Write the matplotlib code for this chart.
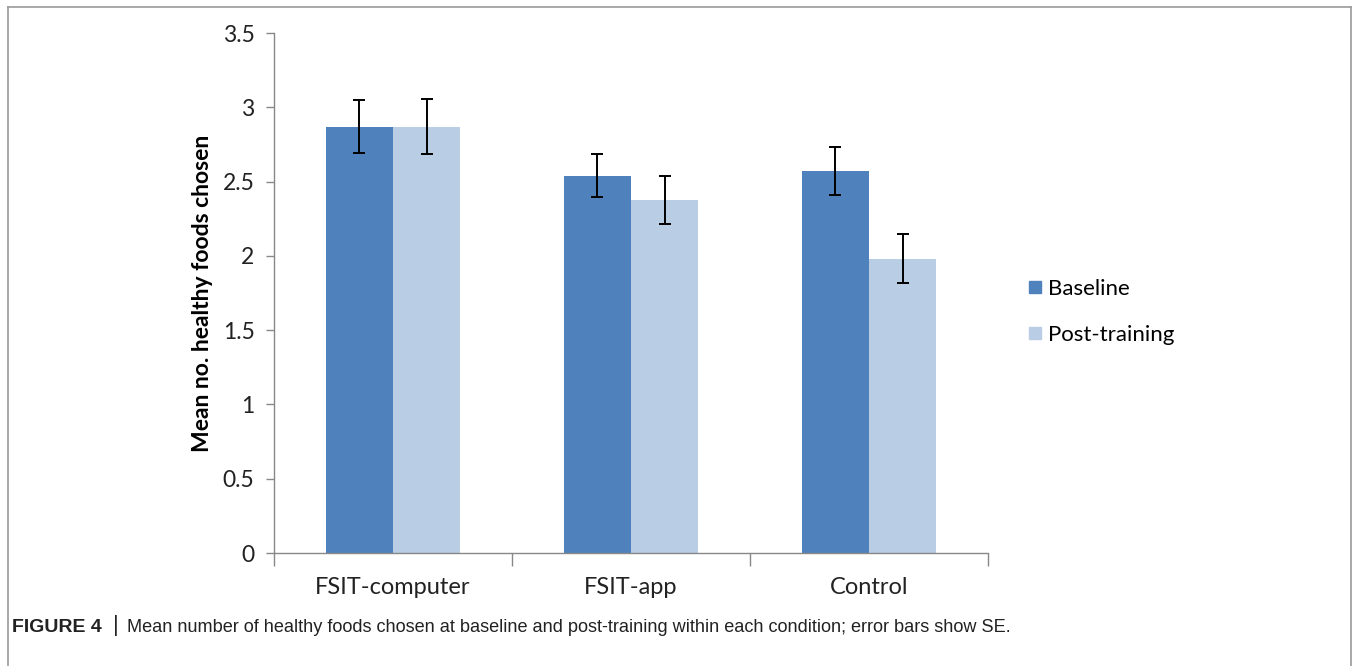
import matplotlib
matplotlib.use("Agg")
import matplotlib.pyplot as plt
import numpy as np
from matplotlib.lines import Line2D

categories = ["FSIT-computer", "FSIT-app", "Control"]
series_names = ["Baseline", "Post-training"]
baseline = [2.87, 2.54, 2.57]
baseline_se = [0.18, 0.145, 0.16]
post = [2.87, 2.375, 1.98]
post_se = [0.185, 0.16, 0.165]
yticks = [0, 0.5, 1, 1.5, 2, 2.5, 3, 3.5]
ytick_labels = ["0", "0.5", "1", "1.5", "2", "2.5", "3", "3.5"]
ylabel = "Mean no. healthy foods chosen"
caption_bold = "FIGURE 4"
caption_text = "Mean number of healthy foods chosen at baseline and post-training within each condition; error bars show SE."

c_base = "#4F81BD"
c_post = "#B9CDE5"
tick_font = ["Lato", "DejaVu Sans"]
cap_font = ["Liberation Sans Narrow", "Liberation Sans", "DejaVu Sans"]

fig = plt.figure(figsize=(13.56, 6.66), dpi=100)
ax = fig.add_axes([274/1356, 113/666, (988-274)/1356, (553-33)/666])

x = np.arange(len(categories))
w = 0.283
ax.bar(x - w/2, baseline, w, color=c_base, yerr=baseline_se,
       error_kw=dict(ecolor="black", elinewidth=1.4, capsize=4.5, capthick=1.4), zorder=2)
ax.bar(x + w/2, post, w, color=c_post, yerr=post_se,
       error_kw=dict(ecolor="black", elinewidth=1.4, capsize=4.5, capthick=1.4), zorder=2)

ax.set_xlim(-0.5, len(categories) - 0.5)
ax.set_ylim(0, 3.5)
ax.set_yticks(yticks)
ax.set_yticklabels(ytick_labels, fontfamily=tick_font, fontsize=16.5, color="#222222")
ax.set_xticks(np.arange(len(categories) + 1) - 0.5, minor=False)
ax.set_xticklabels([])
ax.set_xticks(x, minor=True)
ax.set_xticklabels(categories, minor=True, fontfamily=tick_font, fontsize=17, color="#222222")
ax.tick_params(axis="x", which="minor", length=0, pad=17)
ax.tick_params(axis="x", which="major", length=9, direction="out", color="#888888", width=1)
ax.tick_params(axis="y", length=6, direction="out", color="#888888", width=1, pad=8)
for s in ["top", "right"]:
    ax.spines[s].set_visible(False)
for s in ["left", "bottom"]:
    ax.spines[s].set_color("#888888")
    ax.spines[s].set_linewidth(1)

ax.set_ylabel(ylabel, fontfamily=tick_font, fontsize=16.5, fontweight="bold", labelpad=7)

handles = [Line2D([], [], marker="s", linestyle="", markersize=8, color=c_base),
           Line2D([], [], marker="s", linestyle="", markersize=8, color=c_post)]
fig.legend(handles, series_names, loc="center left", bbox_to_anchor=(1004/1356, 1 - 312/666),
           frameon=False, prop=dict(family=tick_font, size=16), handletextpad=0.1,
           labelspacing=1.15, handlelength=1.0)

# figure frame
for (xs, ys) in [([8, 8], [0, 659]), ([8, 1351], [659, 659]), ([1351, 1351], [0, 659])]:
    fig.add_artist(Line2D([v/1356 for v in xs], [v/666 for v in ys], color="#9a9a9a", linewidth=1.2))

fig.text(12/1356, 1 - 627/666, caption_bold, fontfamily=cap_font, fontweight="bold", fontsize=14,
         va="center", ha="left", color="#222222")
fig.text(113/1356, 1 - 626/666, "|", fontfamily=cap_font, fontsize=16, va="center", ha="left", color="#222222")
fig.text(127/1356, 1 - 627/666, caption_text, fontfamily=cap_font, fontsize=13.1,
         va="center", ha="left", color="#222222")

fig.savefig("out.png", dpi=100)
